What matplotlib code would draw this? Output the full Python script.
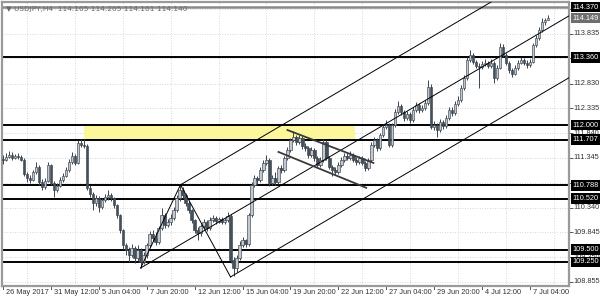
import matplotlib
matplotlib.use('Agg')
import matplotlib.pyplot as plt
import matplotlib.transforms as mtransforms
from matplotlib.patches import Rectangle
import numpy as np

# USDJPY H4 candles (one value per bar)

closes = [111.30, 111.36, 111.40, 111.34, 111.38, 111.36, 111.30, 111.02, 110.94, 110.90,
          111.06, 111.16, 110.86, 110.76, 110.88, 111.20, 110.84, 110.70, 110.78, 110.90,
          110.98, 111.10, 111.26, 111.38, 111.24, 111.64, 111.60, 111.58, 110.74, 110.61,
          110.43, 110.53, 110.35, 110.49, 110.55, 110.59, 110.53, 110.39, 110.19, 109.89,
          109.59, 109.49, 109.39, 109.53, 109.33, 109.49, 109.25, 109.39, 109.59, 109.81,
          109.73, 109.65, 109.93, 110.19, 109.99, 110.05, 110.13, 110.29, 110.53, 110.70,
          110.59, 110.43, 110.29, 110.09, 109.89, 109.83, 109.97, 110.05, 109.93, 110.09,
          110.13, 110.07, 110.11, 110.05, 110.09, 110.17, 109.29, 109.13, 109.33, 109.59,
          109.69, 109.61, 110.19, 110.80, 110.94, 110.90, 111.10, 111.24, 111.30, 110.84,
          110.94, 110.86, 111.14, 111.10, 111.34, 111.50, 111.70, 111.76, 111.66, 111.74,
          111.58, 111.54, 111.40, 111.50, 111.34, 111.20, 111.30, 111.66, 111.34, 111.16,
          111.10, 111.06, 111.20, 111.30, 111.38, 111.34, 111.40, 111.30, 111.26, 111.34,
          111.24, 111.14, 111.30, 111.60, 111.70, 111.54, 111.80, 111.96, 112.00, 111.60,
          112.00, 112.26, 112.38, 112.26, 112.14, 112.22, 112.10, 112.30, 112.40, 112.30,
          112.34, 112.44, 112.76, 111.96, 112.00, 111.90, 112.06, 111.98, 112.14, 112.30,
          112.24, 112.42, 112.50, 112.74, 112.94, 113.31, 113.41, 113.27, 113.19, 113.17,
          113.23, 113.25, 113.19, 113.25, 112.94, 113.15, 113.57, 113.41, 113.25, 113.11,
          113.03, 113.15, 113.25, 113.31, 113.25, 113.21, 113.27, 113.61, 113.75, 113.91,
          114.06, 114.105, 114.140]

highs = [111.40, 111.44, 111.47, 111.45, 111.42, 111.43, 111.39, 111.33, 111.05, 110.99,
         111.10, 111.25, 111.19, 110.92, 110.93, 111.26, 111.22, 110.88, 110.83, 110.96,
         111.04, 111.16, 111.32, 111.45, 111.42, 111.70, 111.72, 111.72, 111.62, 110.80,
         110.66, 110.60, 110.58, 110.54, 110.62, 110.70, 110.64, 110.56, 110.42, 110.22,
         109.92, 109.64, 109.55, 109.62, 109.57, 109.59, 109.53, 109.45, 109.64, 109.87,
         109.90, 109.86, 109.98, 110.33, 110.23, 110.12, 110.22, 110.35, 110.60, 110.80,
         110.75, 110.63, 110.47, 110.32, 110.12, 109.95, 110.02, 110.12, 110.09, 110.15,
         110.20, 110.18, 110.16, 110.15, 110.14, 110.26, 110.21, 109.36, 109.40, 109.68,
         109.76, 109.72, 110.24, 110.86, 111.00, 110.98, 111.15, 111.30, 111.40, 111.34,
         111.00, 111.06, 111.18, 111.20, 111.38, 111.55, 111.75, 111.88, 111.80, 111.80,
         111.78, 111.64, 111.58, 111.55, 111.54, 111.38, 111.35, 111.72, 111.70, 111.38,
         111.20, 111.15, 111.25, 111.35, 111.43, 111.44, 111.48, 111.44, 111.35, 111.38,
         111.38, 111.28, 111.34, 111.65, 111.76, 111.74, 111.85, 112.02, 112.10, 112.04,
         112.05, 112.32, 112.48, 112.42, 112.30, 112.28, 112.26, 112.36, 112.46, 112.45,
         112.40, 112.50, 112.90, 112.82, 112.08, 112.05, 112.12, 112.10, 112.20, 112.36,
         112.36, 112.48, 112.58, 112.80, 113.00, 113.36, 113.50, 113.45, 113.30, 113.25,
         113.28, 113.32, 113.29, 113.33, 113.28, 113.20, 113.65, 113.62, 113.45, 113.28,
         113.15, 113.20, 113.30, 113.36, 113.34, 113.30, 113.32, 113.65, 113.80, 113.96,
         114.15, 114.14, 114.205]

lows = [111.22, 111.27, 111.33, 111.30, 111.31, 111.32, 111.27, 110.98, 110.86, 110.84,
        110.87, 111.02, 110.80, 110.70, 110.72, 110.85, 110.79, 110.55, 110.66, 110.75,
        110.86, 110.95, 111.06, 111.22, 111.20, 111.22, 111.55, 111.53, 110.70, 110.55,
        110.29, 110.38, 110.26, 110.32, 110.45, 110.50, 110.48, 110.33, 110.14, 109.84,
        109.52, 109.40, 109.25, 109.35, 109.23, 109.28, 109.12, 109.20, 109.33, 109.55,
        109.67, 109.60, 109.61, 109.89, 109.93, 109.95, 110.00, 110.09, 110.25, 110.48,
        110.54, 110.38, 110.24, 110.04, 109.84, 109.69, 109.78, 109.93, 109.88, 109.90,
        110.05, 110.02, 110.03, 110.01, 110.01, 110.05, 109.22, 108.97, 109.05, 109.30,
        109.55, 109.56, 109.57, 110.15, 110.75, 110.82, 110.86, 111.06, 111.20, 110.78,
        110.80, 110.80, 110.82, 111.04, 111.06, 111.30, 111.46, 111.66, 111.60, 111.62,
        111.52, 111.48, 111.34, 111.36, 111.28, 111.13, 111.16, 111.26, 111.30, 111.12,
        110.98, 111.00, 111.02, 111.16, 111.26, 111.30, 111.30, 111.26, 111.20, 111.22,
        111.20, 111.08, 111.10, 111.26, 111.56, 111.48, 111.50, 111.76, 111.92, 111.55,
        111.56, 111.96, 112.22, 112.20, 112.08, 112.10, 112.04, 112.06, 112.26, 112.25,
        112.26, 112.30, 112.40, 111.92, 111.90, 111.76, 111.86, 111.92, 111.94, 112.10,
        112.18, 112.20, 112.38, 112.46, 112.70, 112.90, 113.26, 113.22, 113.14, 112.74,
        113.12, 113.18, 113.14, 113.15, 112.84, 112.90, 113.12, 113.36, 113.20, 113.05,
        112.96, 113.00, 113.10, 113.22, 113.20, 113.15, 113.17, 113.24, 113.56, 113.70,
        113.87, 114.00, 114.101]

opens = [111.32] + closes[:-1]

xtick_bars = [0, 16, 32, 48, 64, 80, 96, 112, 128, 144, 160, 176]
xtick_labels = ['26 May 2017', '31 May 12:00', '5 Jun 04:00', '7 Jun 20:00',
                '12 Jun 12:00', '15 Jun 04:00', '19 Jun 20:00', '22 Jun 12:00',
                '27 Jun 04:00', '29 Jun 20:00', '4 Jul 12:00', '7 Jul 04:00']

# price scale ticks; the ones under the level boxes have no label of their own
price_ticks = [108.855, 109.350, 109.845, 110.340, 110.835, 111.345,
               111.840, 112.335, 112.830, 113.340, 113.835, 114.330]
price_labels = [108.855, 109.350, 109.845, 110.340, 111.345,
                111.840, 112.335, 112.830, 113.835]

levels = [113.360, 112.000, 111.707, 110.788, 110.520, 109.500, 109.250]
top_level = 114.370
bid = 114.149

zone = (27, 117.7, 111.707, 112.000)   # bar from, bar to, price lo, price hi

# trend lines: (bar, price) pairs
pitch_pts = [(46, 109.13), (59.3, 110.80), (76, 108.95)]
slope = 0.0354   # price per bar of the rising channel
desc_upper = [(95, 111.90), (123.7, 111.24)]
desc_lower = [(92, 111.46), (121.3, 110.74)]

title = '\u25bc USDJPY,H4  114.105 114.205 114.101 114.140'

# ---------------------------------------------------------------

plt.rcParams['font.family'] = ['Liberation Sans', 'DejaVu Sans']

fig = plt.figure(figsize=(6, 3), dpi=100)
fig.patch.set_facecolor('white')
ax = fig.add_axes([2 / 600, 14 / 300, 567 / 600, 284.5 / 300])

n = len(closes)
x = np.arange(n)
o = np.array(opens)
c = np.array(closes)
h = np.array(highs)
l = np.array(lows)

xmax = 189
ax.set_xlim(-0.3, xmax)
ax.set_ylim(108.768, 114.481)

# grid
for p in price_ticks:
    ax.axhline(p, color='#c8ccd0', lw=0.6, ls=(0, (1, 2)), zorder=0)
for b in range(8, 190, 16):
    ax.axvline(b, color='#c8ccd0', lw=0.6, ls=(0, (1, 2)), zorder=0)

# yellow zone
ax.add_patch(Rectangle((zone[0], zone[2]), zone[1] - zone[0], zone[3] - zone[2],
                       facecolor='#fdf79c', edgecolor='none', zorder=1))

# horizontal levels
for p in levels:
    ax.axhline(p, color='black', lw=1.4, zorder=2)
ax.axhline(top_level, color='#8a8a8a', lw=1.8, zorder=2)

# candles
edge = '#3b444e'
ax.vlines(x, l, h, color=edge, lw=0.7, zorder=3)
body_lo = np.minimum(o, c)
body_h = np.maximum(np.abs(c - o), 0.014)
cols = np.where(c >= o, '#c3c8ce', '#45505b')
ax.bar(x, body_h, bottom=body_lo, width=0.8, color=cols, edgecolor=edge,
       linewidth=0.45, zorder=4)

# rising channel
(x0, y0), (x1, y1), (x2, y2) = pitch_pts
ax.plot([x0, x1, x2], [y0, y1, y2], color='black', lw=0.7, zorder=5)
for bx, by in pitch_pts:
    ax.plot([bx, xmax], [by, by + slope * (xmax - bx)], color='black', lw=0.7, zorder=5)

# descending channel
for seg in (desc_upper, desc_lower):
    ax.plot([seg[0][0], seg[1][0]], [seg[0][1], seg[1][1]], color='#3a3a3a',
            lw=1.3, zorder=5)

# frame
for s in ax.spines.values():
    s.set_color('#9a9a9a')
    s.set_linewidth(1.6)

ax.set_xticks([])
ax.yaxis.tick_right()
ax.set_yticks(price_ticks)
ax.set_yticklabels([])
ax.tick_params(axis='y', length=3, width=0.7, color='#555555', direction='out')

fs = 5.3
tcol = '#333333'

# x labels
xt = mtransforms.blended_transform_factory(ax.transData, ax.transAxes)
for b, lab in zip(xtick_bars, xtick_labels):
    ax.plot([b, b], [0, -0.012], transform=xt, color='#555555', lw=0.7, clip_on=False)
    ax.text(b + 1.0, -0.01, lab, transform=xt, ha='left', va='top', fontsize=fs,
            color=tcol, clip_on=False)

# price labels
yt = mtransforms.blended_transform_factory(ax.transAxes, ax.transData)
for p in price_labels:
    ax.text(1.008, p, '%.3f' % p, transform=yt, ha='left', va='center', fontsize=fs,
            color=tcol, clip_on=False, zorder=6)
for p in levels + [top_level]:
    ax.text(1.006, p, '%.3f' % p, transform=yt, ha='left', va='center', fontsize=fs,
            color='white', clip_on=False, zorder=7,
            bbox=dict(boxstyle='square,pad=0.25', fc='black', ec='none'))
ax.text(1.006, bid, '%.3f' % bid, transform=yt, ha='left', va='center', fontsize=fs,
        color='white', clip_on=False, zorder=7,
        bbox=dict(boxstyle='square,pad=0.25', fc='#6e6e6e', ec='none'))

fig.text(6 / 600, 1 - 8.5 / 300, title, ha='left', va='center', fontsize=fs,
         color='#6a6a6a', family=['DejaVu Sans'], zorder=10)

fig.savefig('out.png', dpi=100)
